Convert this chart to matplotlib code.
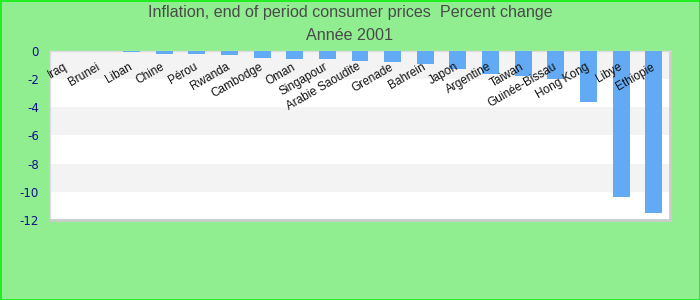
import matplotlib
matplotlib.use('Agg')
import matplotlib.pyplot as plt

countries = ['Iraq', 'Brunei', 'Liban', 'Chine', 'Pérou', 'Rwanda', 'Cambodge', 'Oman',
             'Singapour', 'Arabie Saoudite', 'Grenade', 'Bahrein', 'Japon', 'Argentine',
             'Taiwan', 'Guinée-Bissau', 'Hong Kong', 'Libye', 'Ethiopie']
inflation = [0.0, 0.0, -0.1, -0.2, -0.2, -0.3, -0.5, -0.6, -0.6, -0.7, -0.8, -0.9,
             -1.3, -1.6, -1.8, -2.0, -3.6, -10.4, -11.5]
y_ticks = [0, -2, -4, -6, -8, -10, -12]

fig = plt.figure(figsize=(7, 3), dpi=100, facecolor='#90ee90',
                 edgecolor='#22ee22', linewidth=2)
ax = fig.add_axes([50 / 700, 1 - 220 / 300, 620 / 700, 169 / 300])
ax.set_facecolor('white')

# alternating bands
for k in range(0, 12, 4):
    ax.axhspan(-k, -k - 2, color='#f3f3f3', zorder=0, lw=0)

x = list(range(len(countries)))
ax.bar(x, inflation, width=0.52, color='#63aaf5', zorder=3)

ax.set_xlim(-0.5, len(countries) - 0.5)
ax.set_ylim(-12, 0)
ax.set_xticks([])
ax.set_yticks(y_ticks)
ax.set_yticklabels([str(t) for t in y_ticks], color='#10108a', fontsize=8.5)
ax.tick_params(axis='y', length=0, pad=8)

for name, xi in zip(countries, x):
    ax.text(xi - 0.1, -0.7, name, rotation=30, rotation_mode='anchor',
            ha='right', va='top', fontsize=8.5, family='Liberation Sans',
            color='#111111', zorder=4)

for side in ['left', 'top']:
    ax.spines[side].set_color('#dddddd')
    ax.spines[side].set_linewidth(1)
for side in ['right', 'bottom']:
    ax.spines[side].set_color('#cccccc')
    ax.spines[side].set_linewidth(2)

fig.text(0.5, 1 - 13 / 300, 'Inflation, end of period consumer prices  Percent change',
         ha='center', va='center', fontsize=11.6, family='Liberation Sans', color='#4a4a4a')
fig.text(0.5, 1 - 36 / 300, 'Année 2001', ha='center', va='center',
         fontsize=11.6, family='Liberation Sans', color='#4a4a4a')

fig.savefig('out.png', dpi=100, facecolor=fig.get_facecolor(), edgecolor=fig.get_edgecolor())
